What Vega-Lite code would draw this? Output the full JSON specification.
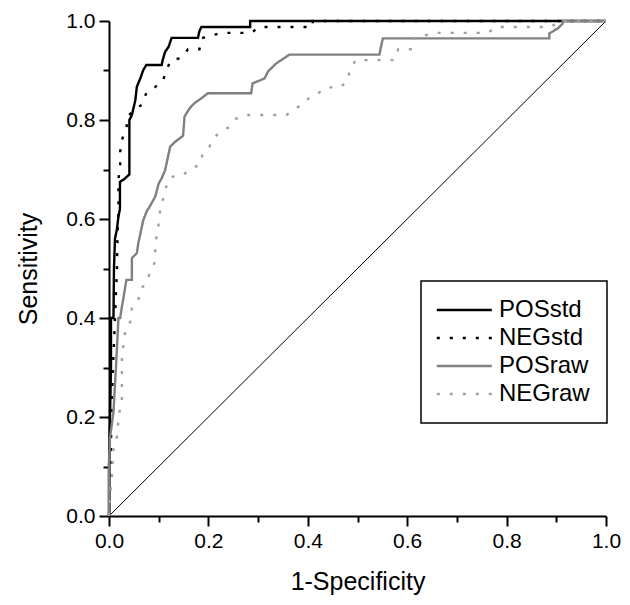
{
  "$schema": "https://vega.github.io/schema/vega-lite/v6.json",
  "width": 497,
  "height": 495,
  "autosize": {"type": "none"},
  "padding": {"left": 109, "top": 21, "right": 24, "bottom": 89},
  "background": "white",
  "config": {
    "view": {"stroke": null},
    "font": "Liberation Sans",
    "axis": {
      "domainColor": "black",
      "domainWidth": 2,
      "tickColor": "black",
      "tickWidth": 2,
      "grid": false,
      "labelFont": "Liberation Sans",
      "labelFontSize": 21,
      "labelColor": "black",
      "labelFlush": false,
      "labelOverlap": false,
      "titleFont": "Liberation Sans",
      "titleFontSize": 25,
      "titleFontWeight": "normal",
      "titleColor": "black"
    },
    "legend": {
      "orient": "none",
      "legendX": 312,
      "legendY": 260,
      "strokeColor": "black",
      "strokeWidth": 1.5,
      "padding": 17,
      "symbolType": "M-1.44,0H4.56",
      "symbolSize": 336,
      "symbolStrokeWidth": 2.5,
      "labelFont": "Liberation Sans",
      "labelFontSize": 24,
      "labelColor": "black",
      "labelOffset": 37,
      "rowPadding": 4,
      "fillColor": "white"
    }
  },
  "datasets": {
    "roc": [
      {"series": "POSstd", "i": 0, "fpr": 0, "tpr": 0},
      {"series": "POSstd", "i": 1, "fpr": 0, "tpr": 0.1},
      {"series": "POSstd", "i": 2, "fpr": 0.002, "tpr": 0.2},
      {"series": "POSstd", "i": 3, "fpr": 0.004, "tpr": 0.3},
      {"series": "POSstd", "i": 4, "fpr": 0.004, "tpr": 0.4},
      {"series": "POSstd", "i": 5, "fpr": 0.009, "tpr": 0.4},
      {"series": "POSstd", "i": 6, "fpr": 0.01, "tpr": 0.5},
      {"series": "POSstd", "i": 7, "fpr": 0.012, "tpr": 0.56},
      {"series": "POSstd", "i": 8, "fpr": 0.016, "tpr": 0.58},
      {"series": "POSstd", "i": 9, "fpr": 0.019, "tpr": 0.605},
      {"series": "POSstd", "i": 10, "fpr": 0.022, "tpr": 0.62},
      {"series": "POSstd", "i": 11, "fpr": 0.022, "tpr": 0.675},
      {"series": "POSstd", "i": 12, "fpr": 0.03, "tpr": 0.68},
      {"series": "POSstd", "i": 13, "fpr": 0.041, "tpr": 0.69},
      {"series": "POSstd", "i": 14, "fpr": 0.041, "tpr": 0.8},
      {"series": "POSstd", "i": 15, "fpr": 0.046, "tpr": 0.81},
      {"series": "POSstd", "i": 16, "fpr": 0.053, "tpr": 0.84},
      {"series": "POSstd", "i": 17, "fpr": 0.056, "tpr": 0.867},
      {"series": "POSstd", "i": 18, "fpr": 0.063, "tpr": 0.884},
      {"series": "POSstd", "i": 19, "fpr": 0.069, "tpr": 0.901},
      {"series": "POSstd", "i": 20, "fpr": 0.075, "tpr": 0.911},
      {"series": "POSstd", "i": 21, "fpr": 0.106, "tpr": 0.911},
      {"series": "POSstd", "i": 22, "fpr": 0.108, "tpr": 0.921},
      {"series": "POSstd", "i": 23, "fpr": 0.113, "tpr": 0.938},
      {"series": "POSstd", "i": 24, "fpr": 0.12, "tpr": 0.948},
      {"series": "POSstd", "i": 25, "fpr": 0.126, "tpr": 0.966},
      {"series": "POSstd", "i": 26, "fpr": 0.179, "tpr": 0.966},
      {"series": "POSstd", "i": 27, "fpr": 0.182, "tpr": 0.98},
      {"series": "POSstd", "i": 28, "fpr": 0.186, "tpr": 0.988},
      {"series": "POSstd", "i": 29, "fpr": 0.284, "tpr": 0.988},
      {"series": "POSstd", "i": 30, "fpr": 0.284, "tpr": 1.0},
      {"series": "POSstd", "i": 31, "fpr": 1, "tpr": 1},

      {"series": "NEGstd", "i": 0, "fpr": 0, "tpr": 0},
      {"series": "NEGstd", "i": 1, "fpr": 0.003, "tpr": 0.1},
      {"series": "NEGstd", "i": 2, "fpr": 0.005, "tpr": 0.2},
      {"series": "NEGstd", "i": 3, "fpr": 0.008, "tpr": 0.3},
      {"series": "NEGstd", "i": 4, "fpr": 0.012, "tpr": 0.4},
      {"series": "NEGstd", "i": 5, "fpr": 0.016, "tpr": 0.5},
      {"series": "NEGstd", "i": 6, "fpr": 0.017, "tpr": 0.56},
      {"series": "NEGstd", "i": 7, "fpr": 0.019, "tpr": 0.62},
      {"series": "NEGstd", "i": 8, "fpr": 0.019, "tpr": 0.68},
      {"series": "NEGstd", "i": 9, "fpr": 0.0225, "tpr": 0.71},
      {"series": "NEGstd", "i": 10, "fpr": 0.0225, "tpr": 0.736},
      {"series": "NEGstd", "i": 11, "fpr": 0.027, "tpr": 0.763},
      {"series": "NEGstd", "i": 12, "fpr": 0.035, "tpr": 0.783},
      {"series": "NEGstd", "i": 13, "fpr": 0.038, "tpr": 0.808},
      {"series": "NEGstd", "i": 14, "fpr": 0.053, "tpr": 0.822},
      {"series": "NEGstd", "i": 15, "fpr": 0.068, "tpr": 0.832},
      {"series": "NEGstd", "i": 16, "fpr": 0.075, "tpr": 0.855},
      {"series": "NEGstd", "i": 17, "fpr": 0.092, "tpr": 0.866},
      {"series": "NEGstd", "i": 18, "fpr": 0.108, "tpr": 0.877},
      {"series": "NEGstd", "i": 19, "fpr": 0.115, "tpr": 0.9},
      {"series": "NEGstd", "i": 20, "fpr": 0.125, "tpr": 0.921},
      {"series": "NEGstd", "i": 21, "fpr": 0.145, "tpr": 0.925},
      {"series": "NEGstd", "i": 22, "fpr": 0.159, "tpr": 0.943},
      {"series": "NEGstd", "i": 23, "fpr": 0.182, "tpr": 0.943},
      {"series": "NEGstd", "i": 24, "fpr": 0.186, "tpr": 0.965},
      {"series": "NEGstd", "i": 25, "fpr": 0.209, "tpr": 0.972},
      {"series": "NEGstd", "i": 26, "fpr": 0.232, "tpr": 0.976},
      {"series": "NEGstd", "i": 27, "fpr": 0.286, "tpr": 0.976},
      {"series": "NEGstd", "i": 28, "fpr": 0.303, "tpr": 0.988},
      {"series": "NEGstd", "i": 29, "fpr": 0.41, "tpr": 0.988},
      {"series": "NEGstd", "i": 30, "fpr": 0.41, "tpr": 1.0},
      {"series": "NEGstd", "i": 31, "fpr": 1, "tpr": 1},

      {"series": "POSraw", "i": 0, "fpr": 0, "tpr": 0},
      {"series": "POSraw", "i": 1, "fpr": 0, "tpr": 0.1},
      {"series": "POSraw", "i": 2, "fpr": 0.002, "tpr": 0.158},
      {"series": "POSraw", "i": 3, "fpr": 0.009, "tpr": 0.21},
      {"series": "POSraw", "i": 4, "fpr": 0.014, "tpr": 0.3},
      {"series": "POSraw", "i": 5, "fpr": 0.019, "tpr": 0.4},
      {"series": "POSraw", "i": 6, "fpr": 0.0225, "tpr": 0.4},
      {"series": "POSraw", "i": 7, "fpr": 0.026, "tpr": 0.423},
      {"series": "POSraw", "i": 8, "fpr": 0.029, "tpr": 0.44},
      {"series": "POSraw", "i": 9, "fpr": 0.035, "tpr": 0.477},
      {"series": "POSraw", "i": 10, "fpr": 0.046, "tpr": 0.477},
      {"series": "POSraw", "i": 11, "fpr": 0.046, "tpr": 0.521},
      {"series": "POSraw", "i": 12, "fpr": 0.056, "tpr": 0.531},
      {"series": "POSraw", "i": 13, "fpr": 0.059, "tpr": 0.551},
      {"series": "POSraw", "i": 14, "fpr": 0.069, "tpr": 0.598},
      {"series": "POSraw", "i": 15, "fpr": 0.077, "tpr": 0.618},
      {"series": "POSraw", "i": 16, "fpr": 0.079, "tpr": 0.62},
      {"series": "POSraw", "i": 17, "fpr": 0.093, "tpr": 0.645},
      {"series": "POSraw", "i": 18, "fpr": 0.1, "tpr": 0.672},
      {"series": "POSraw", "i": 19, "fpr": 0.106, "tpr": 0.682},
      {"series": "POSraw", "i": 20, "fpr": 0.113, "tpr": 0.699},
      {"series": "POSraw", "i": 21, "fpr": 0.123, "tpr": 0.746},
      {"series": "POSraw", "i": 22, "fpr": 0.133, "tpr": 0.756},
      {"series": "POSraw", "i": 23, "fpr": 0.149, "tpr": 0.768},
      {"series": "POSraw", "i": 24, "fpr": 0.152, "tpr": 0.807},
      {"series": "POSraw", "i": 25, "fpr": 0.16, "tpr": 0.82},
      {"series": "POSraw", "i": 26, "fpr": 0.165, "tpr": 0.827},
      {"series": "POSraw", "i": 27, "fpr": 0.172, "tpr": 0.834},
      {"series": "POSraw", "i": 28, "fpr": 0.186, "tpr": 0.844},
      {"series": "POSraw", "i": 29, "fpr": 0.199, "tpr": 0.854},
      {"series": "POSraw", "i": 30, "fpr": 0.286, "tpr": 0.854},
      {"series": "POSraw", "i": 31, "fpr": 0.289, "tpr": 0.874},
      {"series": "POSraw", "i": 32, "fpr": 0.313, "tpr": 0.884},
      {"series": "POSraw", "i": 33, "fpr": 0.32, "tpr": 0.898},
      {"series": "POSraw", "i": 34, "fpr": 0.336, "tpr": 0.914},
      {"series": "POSraw", "i": 35, "fpr": 0.363, "tpr": 0.932},
      {"series": "POSraw", "i": 36, "fpr": 0.544, "tpr": 0.932},
      {"series": "POSraw", "i": 37, "fpr": 0.551, "tpr": 0.965},
      {"series": "POSraw", "i": 38, "fpr": 0.886, "tpr": 0.965},
      {"series": "POSraw", "i": 39, "fpr": 0.886, "tpr": 0.975},
      {"series": "POSraw", "i": 40, "fpr": 0.903, "tpr": 0.985},
      {"series": "POSraw", "i": 41, "fpr": 0.913, "tpr": 0.995},
      {"series": "POSraw", "i": 42, "fpr": 0.913, "tpr": 1.0},
      {"series": "POSraw", "i": 43, "fpr": 1, "tpr": 1},

      {"series": "NEGraw", "i": 0, "fpr": 0, "tpr": 0},
      {"series": "NEGraw", "i": 1, "fpr": 0.002, "tpr": 0.03},
      {"series": "NEGraw", "i": 2, "fpr": 0.004, "tpr": 0.057},
      {"series": "NEGraw", "i": 3, "fpr": 0.006, "tpr": 0.083},
      {"series": "NEGraw", "i": 4, "fpr": 0.009, "tpr": 0.137},
      {"series": "NEGraw", "i": 5, "fpr": 0.016, "tpr": 0.16},
      {"series": "NEGraw", "i": 6, "fpr": 0.02, "tpr": 0.204},
      {"series": "NEGraw", "i": 7, "fpr": 0.026, "tpr": 0.238},
      {"series": "NEGraw", "i": 8, "fpr": 0.026, "tpr": 0.322},
      {"series": "NEGraw", "i": 9, "fpr": 0.033, "tpr": 0.376},
      {"series": "NEGraw", "i": 10, "fpr": 0.043, "tpr": 0.393},
      {"series": "NEGraw", "i": 11, "fpr": 0.046, "tpr": 0.42},
      {"series": "NEGraw", "i": 12, "fpr": 0.059, "tpr": 0.436},
      {"series": "NEGraw", "i": 13, "fpr": 0.063, "tpr": 0.457},
      {"series": "NEGraw", "i": 14, "fpr": 0.076, "tpr": 0.473},
      {"series": "NEGraw", "i": 15, "fpr": 0.083, "tpr": 0.494},
      {"series": "NEGraw", "i": 16, "fpr": 0.093, "tpr": 0.514},
      {"series": "NEGraw", "i": 17, "fpr": 0.093, "tpr": 0.541},
      {"series": "NEGraw", "i": 18, "fpr": 0.096, "tpr": 0.568},
      {"series": "NEGraw", "i": 19, "fpr": 0.1, "tpr": 0.591},
      {"series": "NEGraw", "i": 20, "fpr": 0.103, "tpr": 0.618},
      {"series": "NEGraw", "i": 21, "fpr": 0.108, "tpr": 0.638},
      {"series": "NEGraw", "i": 22, "fpr": 0.115, "tpr": 0.665},
      {"series": "NEGraw", "i": 23, "fpr": 0.125, "tpr": 0.685},
      {"series": "NEGraw", "i": 24, "fpr": 0.149, "tpr": 0.689},
      {"series": "NEGraw", "i": 25, "fpr": 0.165, "tpr": 0.702},
      {"series": "NEGraw", "i": 26, "fpr": 0.182, "tpr": 0.709},
      {"series": "NEGraw", "i": 27, "fpr": 0.189, "tpr": 0.733},
      {"series": "NEGraw", "i": 28, "fpr": 0.202, "tpr": 0.746},
      {"series": "NEGraw", "i": 29, "fpr": 0.212, "tpr": 0.766},
      {"series": "NEGraw", "i": 30, "fpr": 0.226, "tpr": 0.776},
      {"series": "NEGraw", "i": 31, "fpr": 0.242, "tpr": 0.786},
      {"series": "NEGraw", "i": 32, "fpr": 0.256, "tpr": 0.803},
      {"series": "NEGraw", "i": 33, "fpr": 0.276, "tpr": 0.81},
      {"series": "NEGraw", "i": 34, "fpr": 0.357, "tpr": 0.81},
      {"series": "NEGraw", "i": 35, "fpr": 0.373, "tpr": 0.822},
      {"series": "NEGraw", "i": 36, "fpr": 0.39, "tpr": 0.832},
      {"series": "NEGraw", "i": 37, "fpr": 0.405, "tpr": 0.847},
      {"series": "NEGraw", "i": 38, "fpr": 0.422, "tpr": 0.855},
      {"series": "NEGraw", "i": 39, "fpr": 0.44, "tpr": 0.866},
      {"series": "NEGraw", "i": 40, "fpr": 0.465, "tpr": 0.866},
      {"series": "NEGraw", "i": 41, "fpr": 0.48, "tpr": 0.879},
      {"series": "NEGraw", "i": 42, "fpr": 0.485, "tpr": 0.901},
      {"series": "NEGraw", "i": 43, "fpr": 0.496, "tpr": 0.921},
      {"series": "NEGraw", "i": 44, "fpr": 0.574, "tpr": 0.921},
      {"series": "NEGraw", "i": 45, "fpr": 0.582, "tpr": 0.943},
      {"series": "NEGraw", "i": 46, "fpr": 0.61, "tpr": 0.943},
      {"series": "NEGraw", "i": 47, "fpr": 0.613, "tpr": 0.965},
      {"series": "NEGraw", "i": 48, "fpr": 0.655, "tpr": 0.976},
      {"series": "NEGraw", "i": 49, "fpr": 0.762, "tpr": 0.976},
      {"series": "NEGraw", "i": 50, "fpr": 0.779, "tpr": 0.988},
      {"series": "NEGraw", "i": 51, "fpr": 0.89, "tpr": 0.988},
      {"series": "NEGraw", "i": 52, "fpr": 0.906, "tpr": 1.0},
      {"series": "NEGraw", "i": 53, "fpr": 1, "tpr": 1}
    ],
    "diag": [
      {"fpr": 0, "tpr": 0},
      {"fpr": 1, "tpr": 1}
    ]
  },
  "layer": [
    {
      "data": {"name": "diag"},
      "mark": {"type": "line", "color": "black", "strokeWidth": 1},
      "encoding": {
        "x": {
          "field": "fpr", "type": "quantitative",
          "scale": {"domain": [0, 1], "nice": false},
          "axis": {
            "title": "1-Specificity",
            "values": [0, 0.1, 0.2, 0.3, 0.4, 0.5, 0.6, 0.7, 0.8, 0.9, 1.0],
            "labelExpr": "round(datum.value*10)%2===0 ? format(datum.value, '.1f') : ''",
            "tickSize": {"condition": {"test": "round(datum.value*10)%2===0", "value": 10}, "value": 6},
            "labelPadding": 4,
            "titlePadding": 18
          }
        },
        "y": {
          "field": "tpr", "type": "quantitative",
          "scale": {"domain": [0, 1], "nice": false},
          "axis": {
            "title": "Sensitivity",
            "values": [0, 0.1, 0.2, 0.3, 0.4, 0.5, 0.6, 0.7, 0.8, 0.9, 1.0],
            "labelExpr": "round(datum.value*10)%2===0 ? format(datum.value, '.1f') : ''",
            "tickSize": {"condition": {"test": "round(datum.value*10)%2===0", "value": 10}, "value": 6},
            "labelPadding": 4,
            "titlePadding": 24
          }
        }
      }
    },
    {
      "data": {"name": "roc"},
      "mark": {"type": "line", "strokeWidth": 2.4, "strokeCap": "butt"},
      "encoding": {
        "x": {"field": "fpr", "type": "quantitative"},
        "y": {"field": "tpr", "type": "quantitative"},
        "order": {"field": "i", "type": "quantitative"},
        "color": {
          "field": "series", "type": "nominal",
          "scale": {"domain": ["POSstd", "NEGstd", "POSraw", "NEGraw"], "range": ["#000000", "#000000", "#808080", "#a0a0a0"]},
          "legend": {"title": null}
        },
        "strokeDash": {
          "field": "series", "type": "nominal",
          "scale": {"domain": ["POSstd", "NEGstd", "POSraw", "NEGraw"], "range": [[1, 0], [3, 10], [1, 0], [3, 10]]},
          "legend": {"title": null}
        }
      }
    }
  ]
}
